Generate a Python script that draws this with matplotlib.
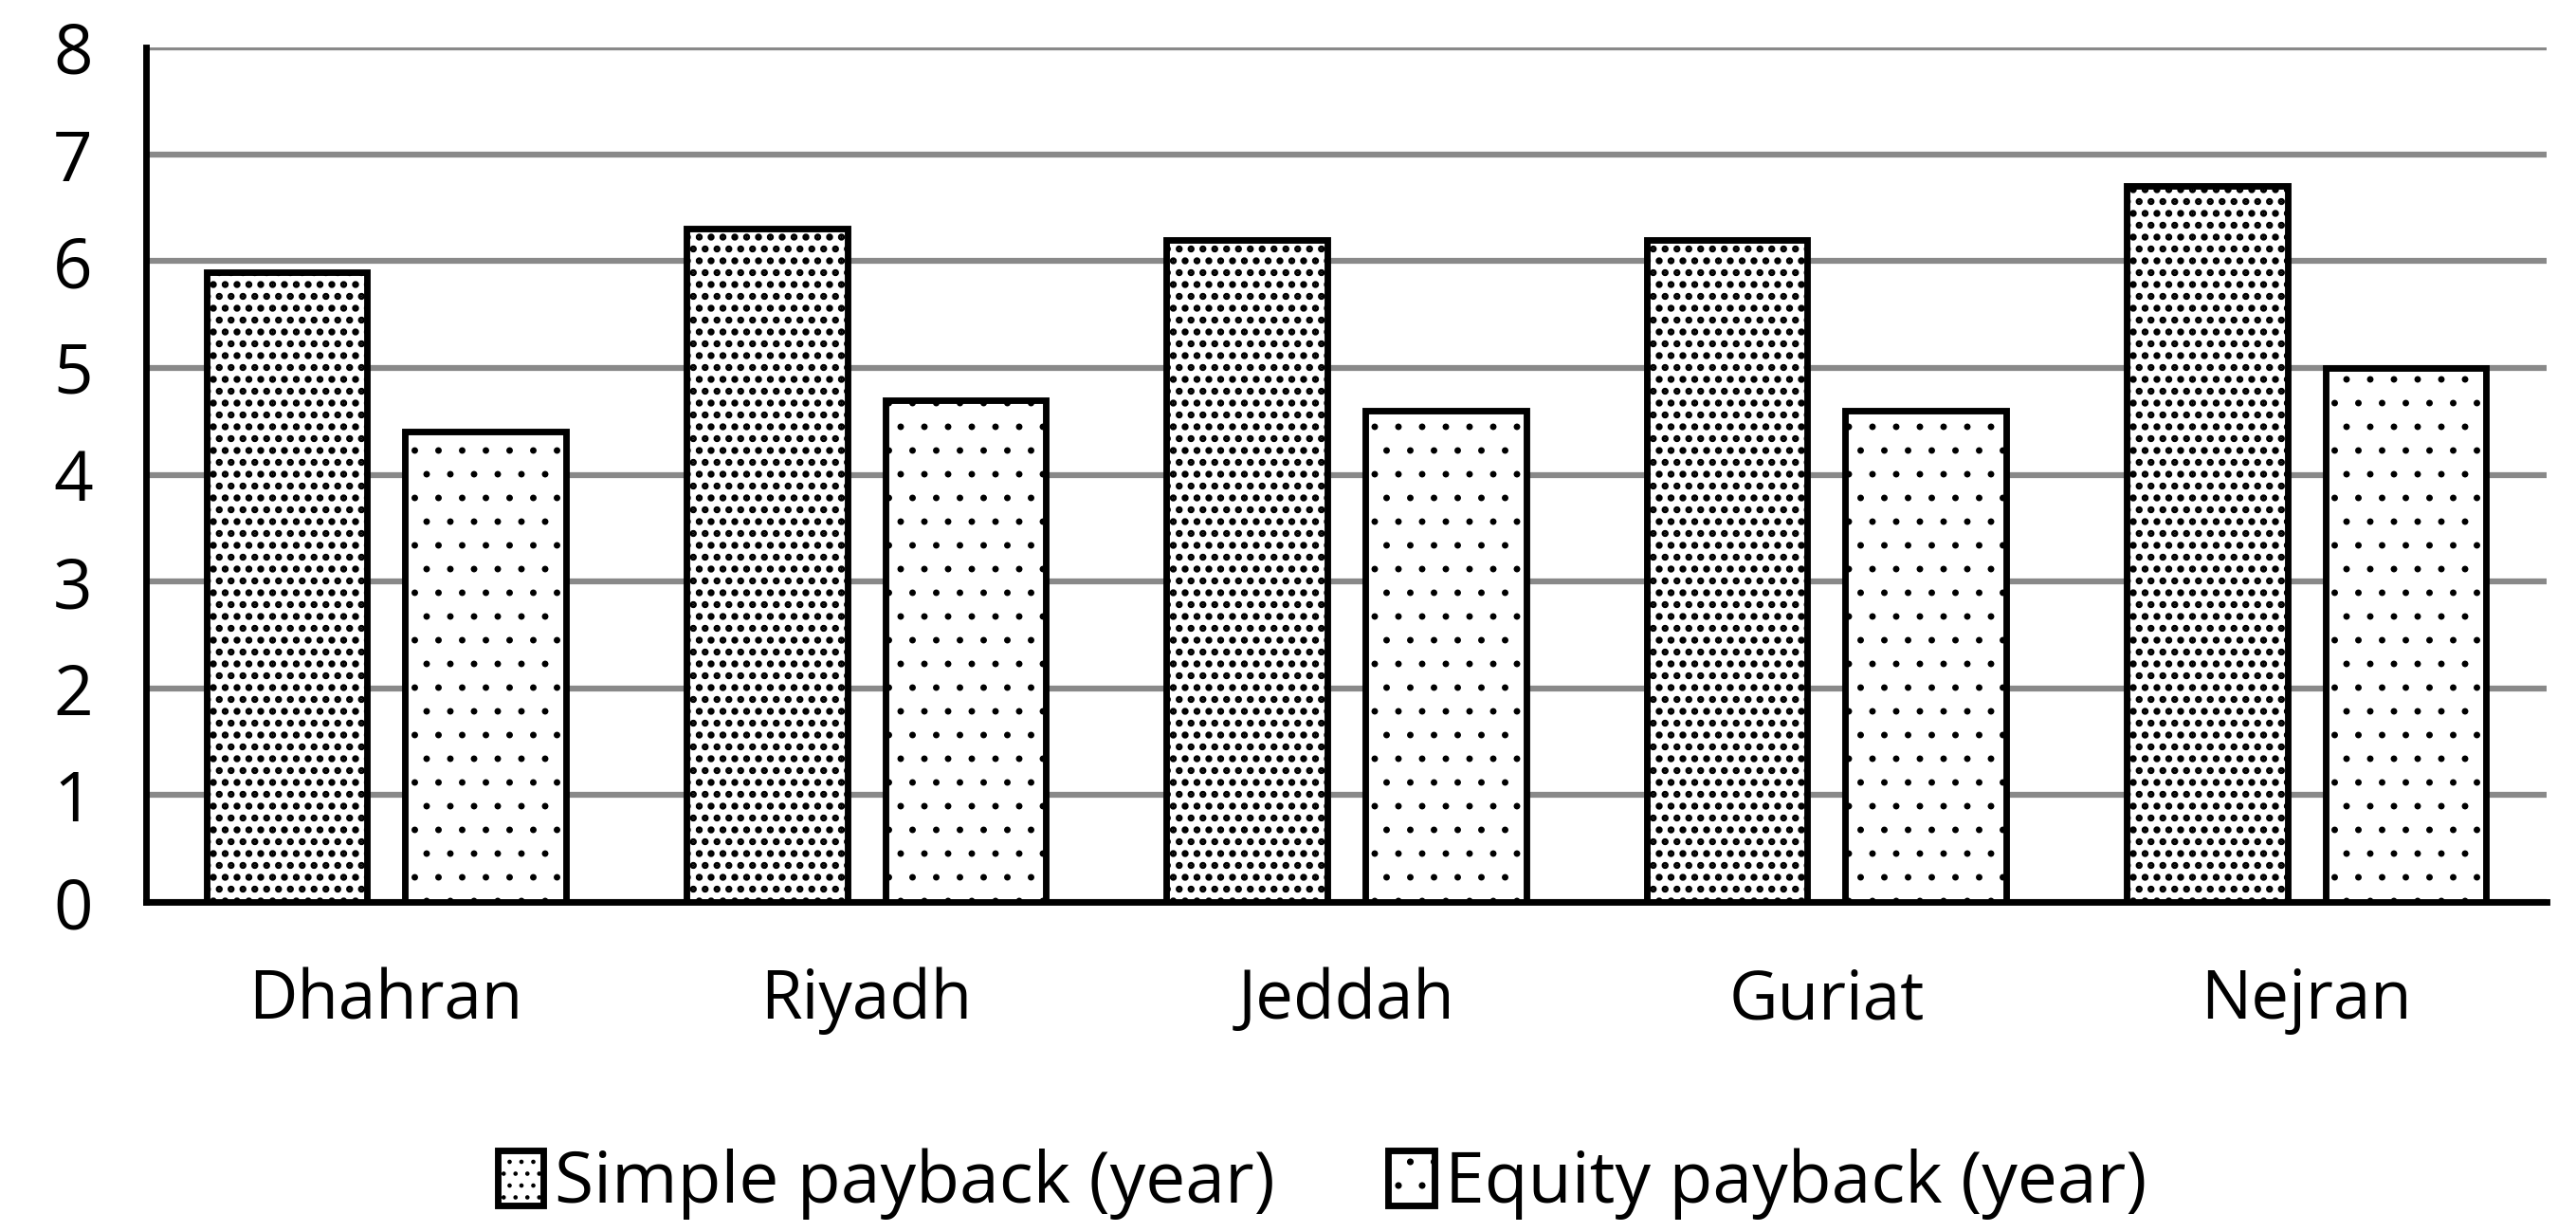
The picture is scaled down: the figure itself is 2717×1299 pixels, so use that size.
import matplotlib.pyplot as plt
import numpy as np

cities = ['Dhahran', 'Riyadh', 'Jeddah', 'Guriat', 'Nejran']
simple_payback = [5.9, 6.3, 6.2, 6.2, 6.7]
equity_payback = [4.4, 4.7, 4.6, 4.6, 5.0]

plt.rcParams['font.family'] = ['Open Sans', 'DejaVu Sans']
plt.rcParams['hatch.color'] = 'black'

DPI = 150
fig = plt.figure(figsize=(2717 / DPI, 1299 / DPI), dpi=DPI)
ax = fig.add_axes([154 / 2717, 1 - 951 / 1299, (2686 - 154) / 2717, (951 - 50) / 1299])

x = np.arange(len(cities))
w = 0.335
# denser checker-like dots for simple payback, sparse dots for equity payback
with plt.rc_context({'hatch.linewidth': 2.3}):
    ax.bar(x - 0.207, simple_payback, w, facecolor='white', edgecolor='black',
           linewidth=3.3, hatch='..', label='Simple payback (year)', zorder=3)
with plt.rc_context({'hatch.linewidth': 0.9}):
    ax.bar(x + 0.207, equity_payback, w, facecolor='white', edgecolor='black',
           linewidth=3.3, hatch='.', label='Equity payback (year)', zorder=3)

ax.set_xlim(-0.5, 4.5)
ax.set_ylim(0, 8)
ax.set_yticks(range(0, 9))
ax.yaxis.grid(True, color='#898989', linewidth=3.0, zorder=0)
ax.set_axisbelow(True)
ax.set_xticks(x)
ax.set_xticklabels(cities)
ax.tick_params(axis='both', length=0)
ax.tick_params(axis='x', pad=33, labelsize=34)
ax.tick_params(axis='y', pad=27, labelsize=35)

for s in ['top', 'right']:
    ax.spines[s].set_visible(False)
ax.spines['left'].set_linewidth(3.3)
ax.spines['bottom'].set_linewidth(3.3)

ax.legend(loc='center', bbox_to_anchor=(0.49, -0.33), ncol=2, frameon=False,
          fontsize=36, handlelength=0.65, handleheight=0.8, handletextpad=0.15,
          columnspacing=1.6)

fig.savefig('out.png', dpi=DPI)
